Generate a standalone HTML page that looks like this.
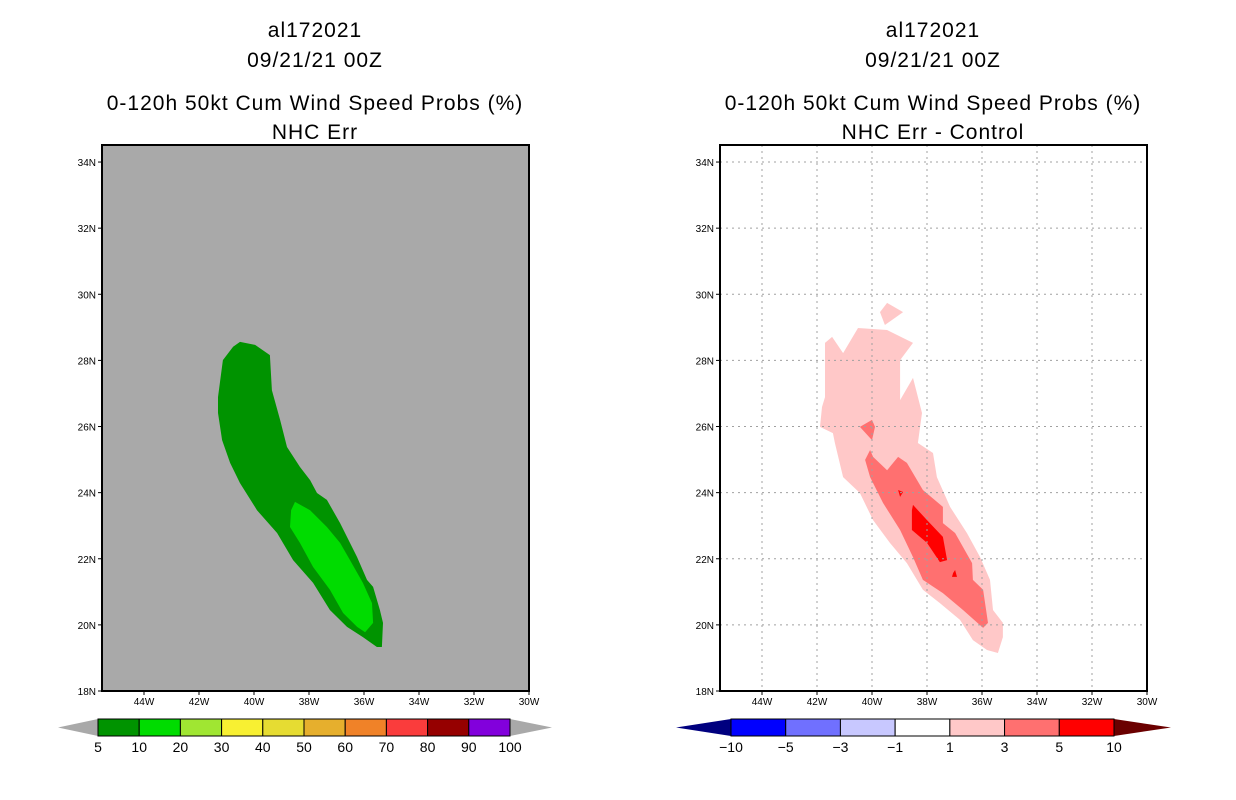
<!DOCTYPE html>
<html><head><meta charset="utf-8"><style>
body{margin:0;background:#fff;width:1236px;height:800px;overflow:hidden}
svg{display:block}
text{font-family:"Liberation Sans",sans-serif;fill:#000}
</style></head><body>
<svg id="s" width="1236" height="800"></svg>
<script>
// ---- data ----
const lonTicks=[44,42,40,38,36,34,32,30];
const latTicks=[18,20,22,24,26,28,30,32,34];
const leftLevels=["5","10","20","30","40","50","60","70","80","90","100"];
const leftColors=["#009300","#00dc00","#a0e632","#f8f032","#e6dc32","#e6af2d","#f08228","#fa3c3c","#960000","#8200dc"];
const rightLevels=["-10","-5","-3","-1","1","3","5","10"];
const rightColors=["#0000ff","#7070ff","#c8c8ff","#ffffff","#ffc8c8","#ff7070","#ff0000"];
const green10=[[40.51,28.56],[39.96,28.47],[39.42,28.16],[39.35,27.10],[39.05,26.20],[38.80,25.38],[38.33,24.78],[37.96,24.38],[37.71,23.99],[37.35,23.78],[36.87,23.08],[36.25,22.05],[35.89,21.36],[35.67,21.15],[35.42,20.45],[35.31,20.06],[35.35,19.33],[35.53,19.33],[36.04,19.63],[36.62,19.94],[37.24,20.45],[37.85,21.27],[38.58,21.96],[39.16,22.78],[39.89,23.47],[40.51,24.29],[40.87,24.90],[41.16,25.59],[41.31,26.41],[41.31,26.89],[41.13,28.01],[40.76,28.41]];
const green20=[[38.51,23.72],[37.96,23.47],[37.35,22.96],[36.87,22.48],[36.51,21.96],[36.04,21.27],[35.71,20.66],[35.67,20.06],[35.96,19.78],[36.25,19.94],[36.76,20.36],[37.24,21.06],[37.85,21.75],[38.33,22.48],[38.69,22.96],[38.65,23.47]];
const pink1=[[41.71,28.53],[41.45,28.71],[41.05,28.22],[40.51,28.98],[39.45,28.92],[38.51,28.53],[38.98,28.01],[38.98,26.80],[38.51,27.47],[38.18,26.41],[38.33,25.50],[37.78,25.20],[37.64,24.47],[37.16,23.57],[36.55,22.78],[36.07,22.05],[35.71,21.36],[35.60,20.45],[35.24,20.06],[35.24,19.63],[35.42,19.15],[35.82,19.24],[36.33,19.54],[36.80,20.15],[37.53,20.66],[38.15,21.06],[38.73,21.87],[39.35,22.48],[39.96,23.17],[40.44,23.99],[41.05,24.47],[41.35,25.50],[41.42,25.80],[41.89,25.99],[41.82,26.59],[41.71,26.89]];
const pink1b=[[39.71,29.46],[39.45,29.74],[38.87,29.46],[39.53,29.07]];
const red3=[[40.07,25.29],[39.96,25.08],[39.45,24.68],[39.05,25.08],[38.73,24.90],[38.15,24.08],[37.42,23.57],[37.42,23.08],[36.98,22.78],[36.36,21.87],[36.33,21.36],[35.96,21.06],[35.78,20.06],[35.96,19.91],[36.69,20.45],[37.42,20.96],[38.15,21.36],[38.51,22.05],[38.98,22.87],[39.60,23.69],[40.07,24.47],[40.25,24.99]];
const red3b=[[40.44,25.99],[40.00,26.20],[39.89,25.99],[40.00,25.59]];
const red5=[[38.51,23.63],[38.00,23.17],[37.42,22.66],[37.27,21.96],[37.53,21.90],[38.00,22.48],[38.55,22.87],[38.55,23.47]];
const red5b=[[39.05,24.08],[38.87,24.02],[38.98,23.87]];
const red5c=[[37.05,21.57],[36.98,21.66],[36.91,21.45],[37.09,21.45]];
// ---- layout ----
const NS="http://www.w3.org/2000/svg",S=document.getElementById('s');
function el(t,a,p){const e=document.createElementNS(NS,t);for(const k in a)e.setAttribute(k,a[k]);(p||S).appendChild(e);return e;}
const W=427,H=546,T0=145;
function xs(x0){return lon=>x0+W-(lon-30)*27.5;}
function ys(lat){return 691-(lat-18)*33.06;}
function poly(pts,x,fill,name){
  const p=el('polygon',{points:pts.map(d=>x(d[0]).toFixed(1)+','+ys(d[1]).toFixed(1)).join(' '),fill:fill});
  
  
}
function panel(x0,t3,t4,grid,bg,id){
  const cx=x0+213;
  [["al172021",37],["09/21/21 00Z",67],[t3,110],[t4,139]].forEach((t,i)=>{
    const e=el('text',{x:cx,y:t[1],'text-anchor':'middle','font-size':'21','letter-spacing':'1'});e.textContent=t[0];
    
    
  });
  const r=el('rect',{x:x0,y:T0,width:W,height:H,fill:bg});
  
  
  const x=xs(x0);
  if(id==='left'){poly(green10,x,'#009300','prob-10-20-contour');poly(green20,x,'#00dc00','prob-20-30-contour');}
  else{poly(pink1,x,'#ffc8c8','diff-1-3-contour');poly(pink1b,x,'#ffc8c8','diff-1-3-island');poly(red3,x,'#ff7070','diff-3-5-contour');poly(red3b,x,'#ff7070','diff-3-5-island');poly(red5,x,'#ff0000','diff-5-10-contour');poly(red5b,x,'#ff0000','diff-5-10-spot-a');poly(red5c,x,'#ff0000','diff-5-10-spot-b');}
  lonTicks.forEach(l=>{
    const px=x(l);
    if(grid&&l!==30){const g=el('line',{x1:px,y1:T0,x2:px,y2:T0+H,stroke:'#a0a0a0','stroke-dasharray':'2,4'});}
    el('line',{x1:px,y1:691,x2:px,y2:695,stroke:'#000'});
    const t=el('text',{x:px,y:705,'text-anchor':'middle','font-size':'10'});t.textContent=l+'W';
    
    
  });
  latTicks.forEach(l=>{
    const py=ys(l);
    if(grid&&l!==18){const g=el('line',{x1:x0,y1:py,x2:x0+W,y2:py,stroke:'#a0a0a0','stroke-dasharray':'2,4'});}
    el('line',{x1:x0-4,y1:py,x2:x0,y2:py,stroke:'#000'});
    const t=el('text',{x:x0-6,y:py+4,'text-anchor':'end','font-size':'10'});t.textContent=l+'N';
    
    
  });
  el('rect',{x:x0,y:T0,width:W,height:H,fill:'none',stroke:'#000','stroke-width':'2'});
}
panel(102,"0-120h 50kt Cum Wind Speed Probs (%)","NHC Err",false,'#a9a9a9','left');
panel(720,"0-120h 50kt Cum Wind Speed Probs (%)","NHC Err - Control",true,'#ffffff','right');
function cbar(x0,x1,tipL,tipR,colors,labels,lc,rc,id){
  const w=(x1-x0)/colors.length,y0=719,y1=736,ym=(y0+y1)/2;
  const a=el('polygon',{points:`${tipL},${ym} ${x0},${y0} ${x0},${y1}`,fill:lc});
  
  const b=el('polygon',{points:`${tipR},${ym} ${x1},${y0} ${x1},${y1}`,fill:rc});
  
  colors.forEach((c,i)=>{const r=el('rect',{x:x0+i*w,y:y0,width:w,height:y1-y0,fill:c,stroke:'#000','stroke-width':'1'});
    });
  labels.forEach((l,i)=>{const t=el('text',{x:x0+i*w,y:752,'text-anchor':'middle','font-size':'14'});t.textContent=l.replace('-','\u2212');
    });
}
cbar(98,510,58,552,leftColors,leftLevels,'#a9a9a9','#a9a9a9','left-colorbar');
cbar(731,1114,676,1171,rightColors,rightLevels,'#00007f','#6b0000','right-colorbar');
</script>
</body></html>
